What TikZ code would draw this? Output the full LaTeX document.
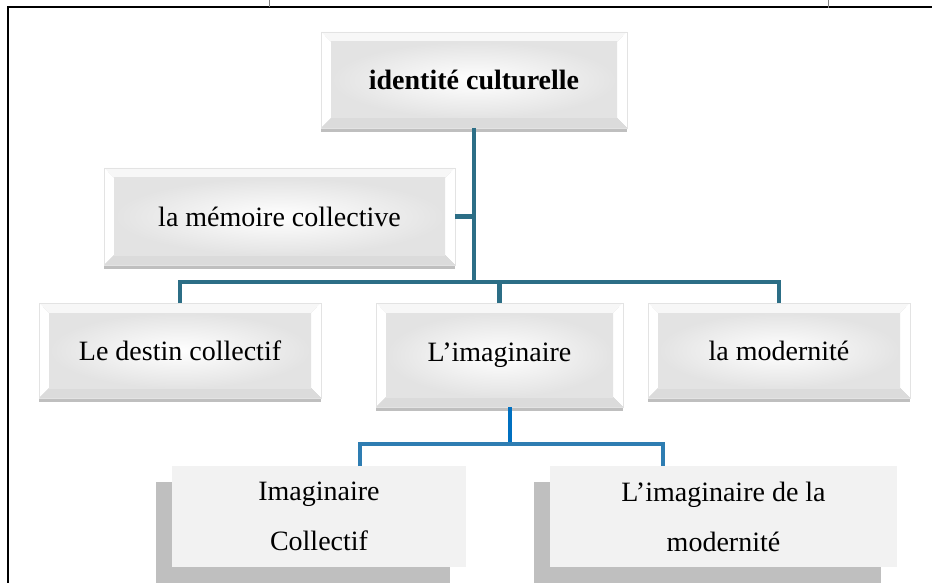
\documentclass[tikz,border=0pt]{standalone}
\usepackage{fontspec}
\setmainfont{Liberation Serif}
\usetikzlibrary{shadows}
\definecolor{tealline}{RGB}{44,110,134}
\definecolor{blueA}{RGB}{0,112,192}
\definecolor{blueB}{RGB}{46,125,178}
\definecolor{boxgray}{RGB}{242,242,242}
\definecolor{shadowgray}{RGB}{191,191,191}
\tikzset{
  bevel/.style={rectangle, inner sep=0pt, outer sep=0pt, draw=gray!22, line width=0.6pt,
    font=\fontsize{28}{34}\selectfont,
    drop shadow={shadow xshift=0pt, shadow yshift=-4pt, opacity=0.25, fill=black},
    path picture={
      \path (path picture bounding box.north west) coordinate (bnw)
            (path picture bounding box.south east) coordinate (bse);
      \path ([xshift=10pt,yshift=-10pt]bnw) coordinate (inw)
            ([xshift=-10pt,yshift=10pt]bse) coordinate (ise);
      \fill[gray!6] (bnw) -- (bnw -| bse) -- (inw -| ise) -- (inw) -- cycle;
      \fill[white] (bnw) -- (inw) -- (inw |- ise) -- (bnw |- bse) -- cycle;
      \fill[white] (bnw -| bse) -- (bse) -- (ise) -- (inw -| ise) -- cycle;
      \fill[gray!28] (bnw |- bse) -- (inw |- ise) -- (ise) -- (bse) -- cycle;
      \shade[inner color=white, outer color=gray!22] (inw) rectangle (ise);
    }},
  flatbox/.style={rectangle, inner sep=0pt, outer sep=0pt, fill=boxgray, align=center,
    font=\fontsize{28}{50}\selectfont,
    general shadow={shadow xshift=-16pt, shadow yshift=-16pt, fill=shadowgray}},
  tealconn/.style={draw=tealline, line width=4.5pt},
  blueconnA/.style={draw=blueA, line width=4.5pt},
  blueconnB/.style={draw=blueB, line width=4.5pt},
  frame/.style={draw=black, line width=2pt}
}
\begin{document}
\begin{tikzpicture}[x=1pt, y=-1pt]
\useasboundingbox (0,0) rectangle (932,583);
% frame
\draw[frame] (8,583) -- (8,7) -- (932,7);
\draw[gray, line width=0.6pt] (269,0) -- (269,7) (828,0) -- (828,8);

% nodes
\node[bevel, minimum width=306pt, minimum height=96pt] (top) at (474,80) {\textbf{identité culturelle}};
\node[bevel, minimum width=351pt, minimum height=97pt] (mem) at (279.5,216.5) {la mémoire collective};
\node[bevel, minimum width=282pt, minimum height=95pt] (dest) at (180,350.5) {Le destin collectif};
\node[bevel, minimum width=247pt, minimum height=104pt] (imag) at (499.5,355) {L’imaginaire};
\node[bevel, minimum width=262pt, minimum height=95pt] (mod) at (779,350.5) {la modernité};
\node[flatbox, minimum width=294pt, minimum height=101pt] (ic) at (319,516.5) {Imaginaire\\Collectif};
\node[flatbox, minimum width=347pt, minimum height=101pt] (im) at (723.5,516.5) {L’imaginaire de la\\modernité};

% teal connectors
\coordinate (j1) at (474,282);
\draw[tealconn] (top.south) -- (j1);
\draw[tealconn] (mem.east) -- (mem.east -| j1);
\draw[tealconn] (dest.north) |- (j1);
\draw[tealconn] (mod.north) |- (j1);
\draw[tealconn] (imag.north) -- (imag.north |- j1);

% blue connectors
\coordinate (j2) at (510,444);
\coordinate (d1) at (360,0);
\coordinate (d2) at (663,0);
\draw[blueconnA] (imag.south -| j2) -- ([yshift=2pt]j2);
\draw[blueconnB] (ic.north -| d1) |- (j2) -| (im.north -| d2);
\end{tikzpicture}
\end{document}
